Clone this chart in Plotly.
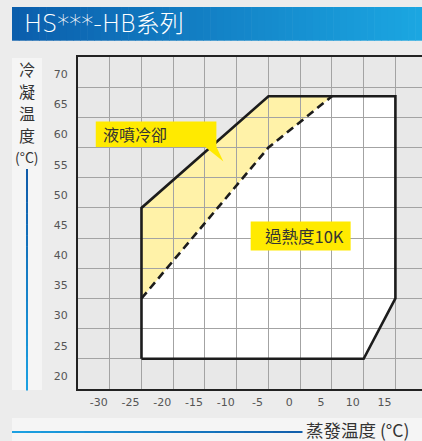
import plotly.graph_objects as go

# ---- data ----
evap_env = [-25, -25, -5, 15, 15, 10, -25]
cond_env = [25, 50, 68.5, 68.5, 35, 25, 25]
evap_sh = [-25, -5, 5]
cond_sh = [35, 60, 68.5]
evap_inj = [-25, -5, 5, -5, -25]
cond_inj = [50, 68.5, 68.5, 60, 35]
x_ticks = [-30, -25, -20, -15, -10, -5, 0, 5, 10, 15]
x_tick_text = ["-30", "-25", "-20", "-15", "-10", "-5", "0", "5", "10", "15"]
y_ticks = [20, 25, 30, 35, 40, 45, 50, 55, 60, 65, 70]
y_title_chars = ["冷", "凝", "温", "度", "(°C)"]

W, H = 422, 441
ML, MR, MT, MB = 78, 0, 57, 52
PW, PH = W - ML - MR, H - MT - MB


def px(p):
    return (p - ML) / PW


def py(p):
    return (H - MB - p) / PH


def path(xs, ys):
    return "M " + " L ".join(f"{a},{b}" for a, b in zip(xs, ys)) + " Z"


def lerp(c1, c2, t):
    return "rgb(%d,%d,%d)" % tuple(round(a + (b - a) * t) for a, b in zip(c1, c2))


fig = go.Figure()
fig.add_trace(go.Scatter(x=evap_env, y=cond_env, mode="lines",
                         line=dict(color="#1c1c1c", width=2.6), hoverinfo="skip"))
fig.add_trace(go.Scatter(x=evap_sh, y=cond_sh, mode="lines",
                         line=dict(color="#1c1c1c", width=2.6, dash="8px,5px"), hoverinfo="skip"))

shapes = []
# fills under the grid
shapes.append(dict(type="path", xref="x", yref="y", path=path(evap_env, cond_env),
                   fillcolor="#ffffff", line=dict(width=0), layer="below"))
shapes.append(dict(type="path", xref="x", yref="y", path=path(evap_inj, cond_inj),
                   fillcolor="#fff2a8", line=dict(width=0), layer="below"))

# title bar gradient
n = 60
x0, x1 = 12, 422
for i in range(n):
    a = x0 + (x1 - x0) * i / n
    b = x0 + (x1 - x0) * (i + 1) / n + 0.6
    shapes.append(dict(type="rect", xref="paper", yref="paper",
                       x0=px(a), x1=px(b), y0=py(40.7), y1=py(7),
                       fillcolor=lerp((11, 94, 172), (27, 166, 225), i / (n - 1)),
                       line=dict(width=0), layer="above"))
# light strips
shapes.append(dict(type="rect", xref="paper", yref="paper", x0=px(12), x1=px(42),
                   y0=py(390), y1=py(58), fillcolor="#f5f5f5", line=dict(width=0), layer="below"))
shapes.append(dict(type="rect", xref="paper", yref="paper", x0=px(12), x1=px(422),
                   y0=py(441), y1=py(418), fillcolor="#f5f5f5", line=dict(width=0), layer="below"))
# vertical blue line (gradient)
m = 20
for i in range(m):
    a = 169 + (390 - 169) * i / m
    b = 169 + (390 - 169) * (i + 1) / m + 0.5
    shapes.append(dict(type="rect", xref="paper", yref="paper", x0=px(26), x1=px(28),
                       y0=py(b), y1=py(a), fillcolor=lerp((16, 92, 170), (28, 160, 225), i / (m - 1)),
                       line=dict(width=0), layer="above"))
# horizontal blue line (gradient)
for i in range(m):
    a = 12 + (302 - 12) * i / m
    b = 12 + (302 - 12) * (i + 1) / m + 0.5
    shapes.append(dict(type="rect", xref="paper", yref="paper", x0=px(a), x1=px(b),
                       y0=py(433), y1=py(431), fillcolor=lerp((28, 160, 225), (18, 96, 172), i / (m - 1)),
                       line=dict(width=0), layer="above"))

# callout boxes
shapes.append(dict(type="rect", xref="x", yref="y", x0=-32.2, x1=-13.2, y0=60.1, y1=64.3,
                   fillcolor="#ffea00", line=dict(width=0), layer="above"))
shapes.append(dict(type="path", xref="x", yref="y", path="M -15,60.15 L -13.2,60.15 L -12.1,57.7 Z",
                   fillcolor="#ffea00", line=dict(width=0), layer="above"))
shapes.append(dict(type="rect", xref="x", yref="y", x0=-7.8, x1=7.95, y0=42.93, y1=47.74,
                   fillcolor="#ffea00", line=dict(width=0), layer="above"))

CJK = "Noto Sans CJK TC, Noto Sans CJK SC, sans-serif"
annotations = [
    dict(text="HS***-HB系列", xref="paper", yref="paper", x=px(22), y=py(24), xanchor="left",
         yanchor="middle", showarrow=False,
         font=dict(family="DejaVu Sans, " + CJK, size=24, color="#ffffff", weight=200)),
    dict(text="蒸發温度 (°C)", xref="paper", yref="paper", x=px(305), y=py(429.5), xanchor="left",
         yanchor="middle", showarrow=False, borderpad=0,
         font=dict(family=CJK, size=17.5, color="#333333")),
    dict(text="液噴冷卻", xref="x", yref="y", x=-31.3, y=62.2, xanchor="left", yanchor="middle",
         showarrow=False, font=dict(family=CJK, size=16, color="#333333")),
    dict(text="過熱度10K", xref="x", yref="y", x=-5.9, y=45.3, xanchor="left", yanchor="middle",
         showarrow=False, font=dict(family=CJK, size=16.5, color="#333333")),
]
for ch, yc in zip(y_title_chars, [69, 91.5, 113, 134.5, 157]):
    annotations.append(dict(text=ch, xref="paper", yref="paper", x=px(27), y=py(yc),
                            xanchor="center", yanchor="middle", showarrow=False, borderpad=0,
                            font=dict(family=CJK, size=16 if len(ch) == 1 else 14, color="#333333")))

fig.update_layout(
    width=W, height=H, margin=dict(l=ML, r=MR, t=MT, b=MB, pad=0),
    paper_bgcolor="#ececec", plot_bgcolor="#e8e8e8",
    showlegend=False, shapes=shapes, annotations=annotations,
    xaxis=dict(range=[-35, -35 + PW / 6.348], tickvals=x_ticks, ticktext=x_tick_text, showgrid=True,
               gridcolor="#a3a3a3", gridwidth=1, zeroline=False, showline=True,
               linecolor="#222222", linewidth=2, mirror=True, ticks="",
               ticklabelshift=-11, ticklabelstandoff=2,
               tickfont=dict(family="DejaVu Sans", size=11, color="#555555"), fixedrange=True),
    yaxis=dict(range=[20, 75], tickvals=y_ticks, showgrid=True, gridcolor="#a3a3a3",
               gridwidth=1, zeroline=False, showline=True, linecolor="#222222", linewidth=2,
               mirror=False, ticks="", ticklabelshift=-13, ticklabelstandoff=6,
               tickfont=dict(family="DejaVu Sans", size=11, color="#555555"), fixedrange=True),
)

fig.write_html("out.html", config={"displayModeBar": False},
               post_script="document.body.style.margin='0';document.body.style.background='#ececec';")
